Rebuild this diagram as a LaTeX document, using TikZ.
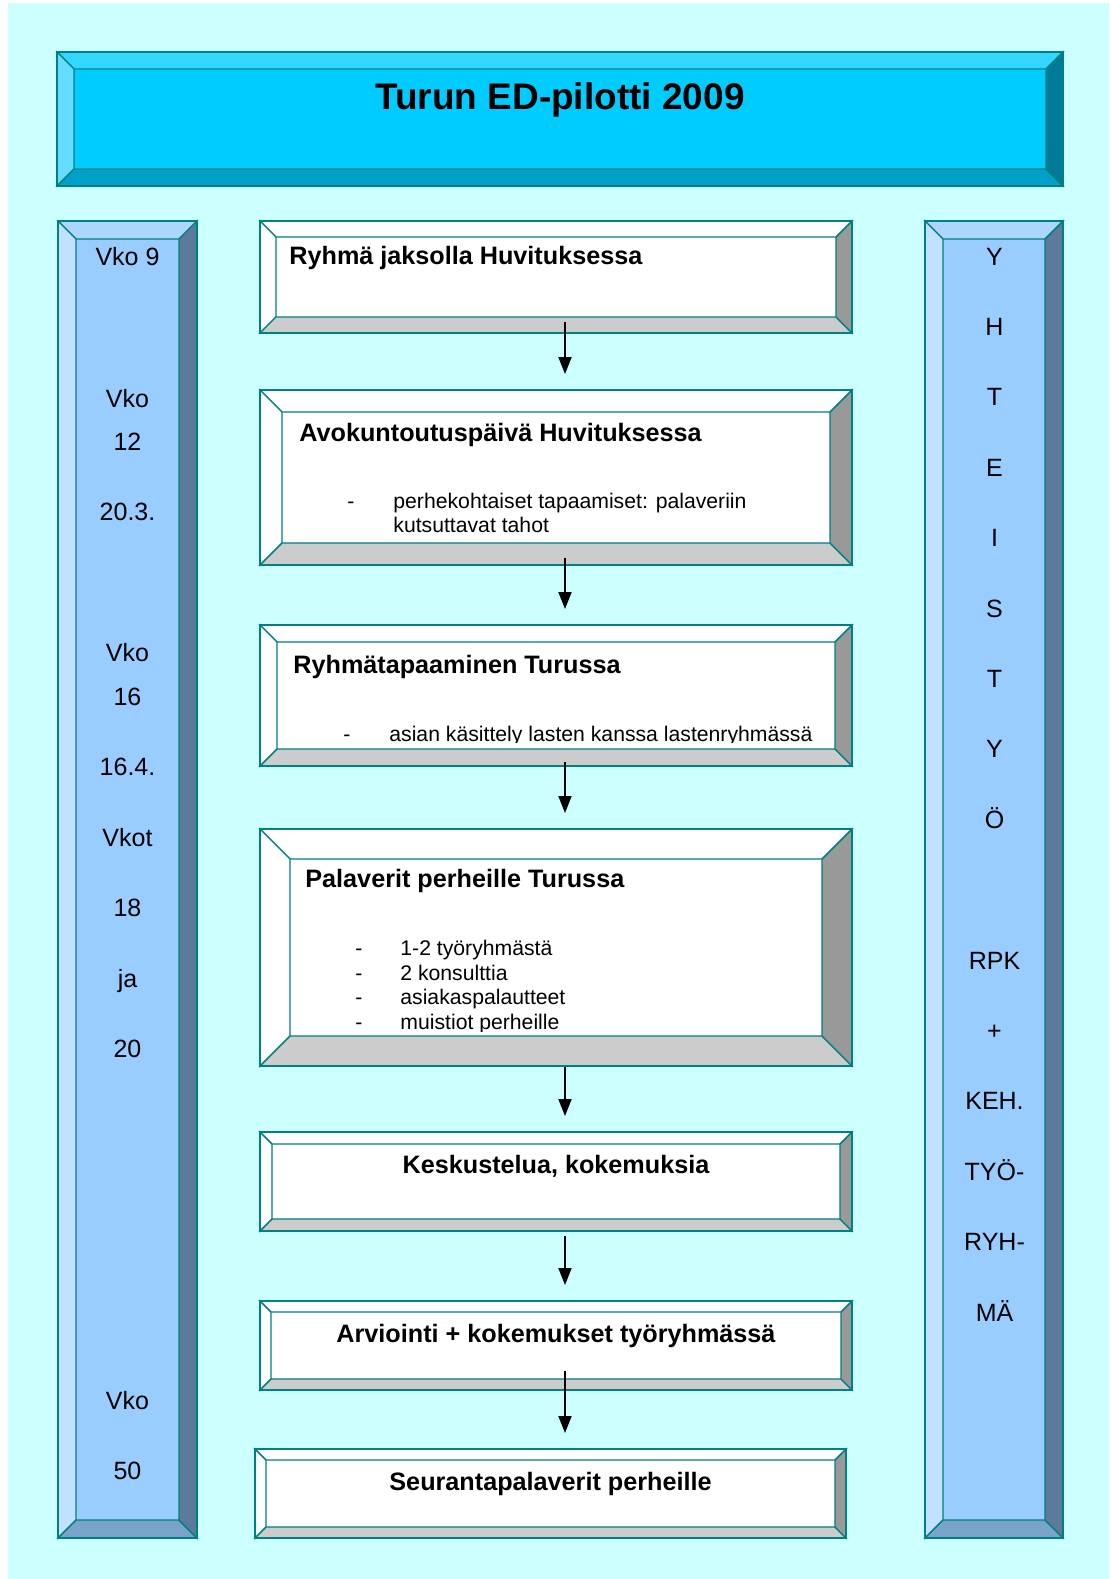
\documentclass[tikz,border=0pt]{standalone}
\usepackage{fontspec}
\setmainfont{Liberation Sans}
\usepackage{xcolor}
\usetikzlibrary{arrows.meta, calc, fit}

\definecolor{bgcyan}{HTML}{CCFFFF}
\definecolor{edge}{HTML}{008080}
% title bar
\definecolor{headface}{HTML}{00CCFF}
\definecolor{headtop}{HTML}{33D6FF}
\definecolor{headleft}{HTML}{66DDFF}
\definecolor{headbottom}{HTML}{00A0C8}
\definecolor{headright}{HTML}{007A99}
% side columns
\definecolor{sideface}{HTML}{99CCFF}
\definecolor{sidetop}{HTML}{ADD6FF}
\definecolor{sideleft}{HTML}{C2E0FF}
\definecolor{sidebottom}{HTML}{7AA3CC}
\definecolor{sideright}{HTML}{5C7A99}
% step cards
\definecolor{cardface}{HTML}{FFFFFF}
\definecolor{cardtop}{HTML}{FFFFFF}
\definecolor{cardleft}{HTML}{FFFFFF}
\definecolor{cardbottom}{HTML}{CCCCCC}
\definecolor{cardright}{HTML}{999999}

% #1 name, (#2,#3) outer top left, (#4,#5) outer bottom right, #6 bevel, #7 colour set
\newcommand{\bevelbox}[7]{%
  \fill[#7face] (#2,#3) rectangle (#4,#5);
  \filldraw[bevel line, fill=#7top] (#2,#3) -- (#4,#3) -- (#4-#6,#3+#6) -- (#2+#6,#3+#6) -- cycle;
  \filldraw[bevel line, fill=#7left] (#2,#3) -- (#2+#6,#3+#6) -- (#2+#6,#5-#6) -- (#2,#5) -- cycle;
  \filldraw[bevel line, fill=#7bottom] (#2,#5) -- (#2+#6,#5-#6) -- (#4-#6,#5-#6) -- (#4,#5) -- cycle;
  \filldraw[bevel line, fill=#7right] (#4,#3) -- (#4,#5) -- (#4-#6,#5-#6) -- (#4-#6,#3+#6) -- cycle;
  \node[frame line, fit={(#2,#3) (#4,#5)}, inner sep=0pt] (#1) {};
}

\begin{document}
\begin{tikzpicture}[
    x=0.5pt, y=-0.5pt,
    bevel line/.style={draw=edge, line width=0.7pt},
    frame line/.style={draw=edge, line width=1pt},
    title text/.style={font=\fontsize{18.5}{22}\selectfont\bfseries, inner sep=0pt, anchor=base},
    head text/.style={font=\fontsize{12.6}{15}\selectfont\bfseries, inner sep=0pt, anchor=base west},
    mid text/.style={font=\fontsize{12.6}{15}\selectfont\bfseries, inner sep=0pt, anchor=base},
    body text/.style={font=\fontsize{10.6}{12.5}\selectfont, inner sep=0pt, anchor=base west},
    side text/.style={font=\fontsize{12.5}{15}\selectfont, inner sep=0pt, anchor=base},
    flow/.style={-{Triangle[width=6.5pt, length=8.5pt]}, line width=1pt, shorten >=7.5pt}
]

    % Page
    \useasboundingbox (0,0) rectangle (1109,1579);
    \fill[white] (0,0) rectangle (1109,1579);
    \fill[bgcyan] (8,3) rectangle (1109,1579);

    % --- TITLE ---
    \bevelbox{head}{57}{52}{1063}{186}{17}{head}
    \node[title text] (headline) at (560,109) {Turun ED-pilotti 2009};

    % --- SIDE COLUMNS ---
    \bevelbox{weeks}{58}{221}{197}{1538}{18}{side}
    \bevelbox{team}{925}{221}{1063}{1538}{18}{side}

    \foreach \y/\t [count=\i] in {265/Vko 9, 407/Vko, 450/12, 520/20.3., 661/Vko, 705/16,
        775/16.4., 846/Vkot, 916/18, 987/ja, 1057/20, 1409/Vko, 1479/50}
        \node[side text] (week-\i) at (127.5,\y) {\t};

    % vertical word, row 9 left empty
    \foreach \k/\t in {0/Y, 1/H, 2/T, 3/E, 4/I, 5/S, 6/T, 7/Y, 8/Ö,
        10/RPK, 11/+, 12/KEH., 13/TYÖ-, 14/RYH-, 15/MÄ}
        \node[side text] (team-\k) at (994.5,265+70.4*\k) {\t};

    % --- STEPS ---
    % 1.
    \bevelbox{ryhma}{260}{221}{852}{333}{16}{card}
    \node[head text] (ryhma-t) at (289,264) {Ryhmä jaksolla Huvituksessa};

    % 2.
    \bevelbox{avo}{260}{390}{852}{565}{22}{card}
    \node[head text] (avo-t) at (299,441) {Avokuntoutuspäivä Huvituksessa};
    \node[body text] (avo-d) at (347,508) {-};
    \node[body text] (avo-1) at (393,508) {perhekohtaiset tapaamiset: palaveriin};
    \node[body text] (avo-2) at (393,532) {kutsuttavat tahot};

    % 3. (last line cut by the inner edge)
    \bevelbox{tapaaminen}{260}{625}{852}{766}{17}{card}
    \node[head text] (tapaaminen-t) at (293,673) {Ryhmätapaaminen Turussa};
    \begin{scope}
        \clip (277,642) rectangle (835,742);
        \node[body text] (tapaaminen-d) at (343,741) {-};
        \node[body text] (tapaaminen-1) at (389,741) {asian käsittely lasten kanssa lastenryhmässä};
    \end{scope}

    % 4.
    \bevelbox{palaverit}{260}{829}{852}{1066}{30}{card}
    \node[head text] (palaverit-t) at (305,887) {Palaverit perheille Turussa};
    \begin{scope}
        \clip (290,859) rectangle (822,1031);
        \foreach \t [count=\i from 0] in {1-2 työryhmästä, 2 konsulttia, asiakaspalautteet, muistiot perheille} {
            \node[body text] (palaverit-d\i) at (355,955.5+24.5*\i) {-};
            \node[body text] (palaverit-\i) at (400,955.5+24.5*\i) {\t};
        }
    \end{scope}

    % 5.-7.
    \bevelbox{keskustelu}{260}{1132}{852}{1231}{12}{card}
    \node[mid text] (keskustelu-t) at (556,1173) {Keskustelua, kokemuksia};

    \bevelbox{arviointi}{260}{1301}{852}{1390}{11}{card}
    \node[mid text] (arviointi-t) at (556,1342) {Arviointi + kokemukset työryhmässä};

    \bevelbox{seuranta}{255}{1449}{846}{1538}{11}{card}
    \node[mid text] (seuranta-t) at (550.5,1490) {Seurantapalaverit perheille};

    % --- ARROWS ---
    \coordinate (spine) at (565,0);
    \draw[flow] ($(spine |- ryhma.south)+(0,-12)$) -- (spine |- avo.north);
    \draw[flow] ($(spine |- avo.south)+(0,-8)$) -- (spine |- tapaaminen.north);
    \draw[flow] ($(spine |- tapaaminen.south)+(0,-5)$) -- (spine |- palaverit.north);
    \draw[flow] (spine |- palaverit.south) -- (spine |- keskustelu.north);
    \draw[flow] ($(spine |- keskustelu.south)+(0,4)$) -- (spine |- arviointi.north);
    \draw[flow] ($(spine |- arviointi.south)+(0,-20)$) -- (spine |- seuranta.north);

\end{tikzpicture}
\end{document}
